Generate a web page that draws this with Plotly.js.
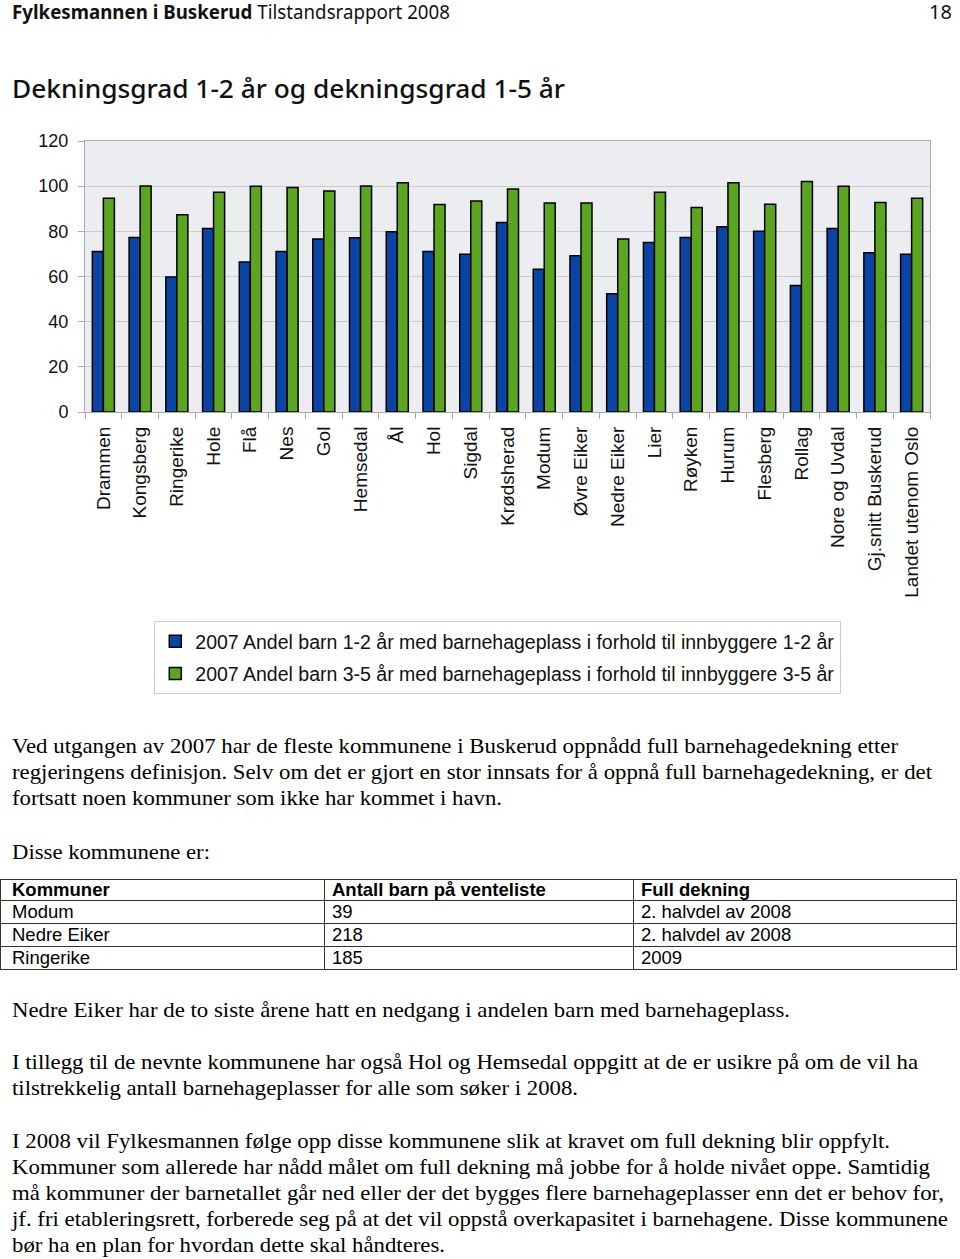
<!DOCTYPE html>
<html>
<head>
<meta charset="utf-8">
<script src="https://cdn.plot.ly/plotly-3.0.1.min.js"></script>
<style>
  html, body { margin:0; padding:0; background:#fff; }
  body { width:960px; height:1259px; position:relative; overflow:hidden; }
  #chart { position:absolute; left:0; top:0; width:960px; height:700px; }
  .ln { position:absolute; left:12px; white-space:nowrap; transform-origin:0 50%; color:#000; }
  .hdr { font-family:"Noto Sans","Open Sans",sans-serif; font-size:20px; line-height:22px; color:#111; }
  .ttl { font-family:"Noto Sans","Open Sans",sans-serif; font-size:26px; line-height:32px; font-weight:500; color:#111; }
  .p { font-family:"Liberation Serif","Times New Roman",serif; font-size:22px; line-height:26px; }
  table { position:absolute; left:0; top:879px; width:957px; border-collapse:collapse;
          font-family:"Liberation Sans",Arial,sans-serif; font-size:18.5px; }
  td { border:1.5px solid #333; padding:0 0 0 7px; height:22px; line-height:22px; vertical-align:middle; }
  th { border:1.5px solid #333; padding:0 0 0 7px; height:20px; line-height:20px; text-align:left; font-weight:bold; }
  tr > :first-child { padding-left:11px; }
</style>
</head>
<body>
<div id="chart"></div>

<div class="ln hdr" style="top:1px" data-w="438"><b>Fylkesmannen i Buskerud</b> Tilstandsrapport 2008</div>
<div class="hdr" style="position:absolute; right:8px; top:1px;">18</div>
<div class="ln ttl" style="top:72px" data-w="553">Dekningsgrad 1-2 år og dekningsgrad 1-5 år</div>

<div class="ln p" style="top:733px" data-w="886">Ved utgangen av 2007 har de fleste kommunene i Buskerud oppnådd full barnehagedekning etter</div>
<div class="ln p" style="top:759px" data-w="920">regjeringens definisjon. Selv om det er gjort en stor innsats for å oppnå full barnehagedekning, er det</div>
<div class="ln p" style="top:785px" data-w="490">fortsatt noen kommuner som ikke har kommet i havn.</div>
<div class="ln p" style="top:839px" data-w="198">Disse kommunene er:</div>

<table>
  <tr><th style="width:312px">Kommuner</th><th style="width:301px">Antall barn på venteliste</th><th>Full dekning</th></tr>
  <tr><td>Modum</td><td>39</td><td>2. halvdel av 2008</td></tr>
  <tr><td>Nedre Eiker</td><td>218</td><td>2. halvdel av 2008</td></tr>
  <tr><td>Ringerike</td><td>185</td><td>2009</td></tr>
</table>

<div class="ln p" style="top:997px" data-w="778">Nedre Eiker har de to siste årene hatt en nedgang i andelen barn med barnehageplass.</div>
<div class="ln p" style="top:1049px" data-w="906">I tillegg til de nevnte kommunene har også Hol og Hemsedal oppgitt at de er usikre på om de vil ha</div>
<div class="ln p" style="top:1075px" data-w="566">tilstrekkelig antall barnehageplasser for alle som søker i 2008.</div>
<div class="ln p" style="top:1128px" data-w="878">I 2008 vil Fylkesmannen følge opp disse kommunene slik at kravet om full dekning blir oppfylt.</div>
<div class="ln p" style="top:1154px" data-w="918">Kommuner som allerede har nådd målet om full dekning må jobbe for å holde nivået oppe. Samtidig</div>
<div class="ln p" style="top:1180px" data-w="932">må kommuner der barnetallet går ned eller der det bygges flere barnehageplasser enn det er behov for,</div>
<div class="ln p" style="top:1206px" data-w="936">jf. fri etableringsrett, forberede seg på at det vil oppstå overkapasitet i barnehagene. Disse kommunene</div>
<div class="ln p" style="top:1232px" data-w="433">bør ha en plan for hvordan dette skal håndteres.</div>

<script>
const kommuner = ["Drammen","Kongsberg","Ringerike","Hole","Flå","Nes","Gol","Hemsedal","Ål","Hol",
  "Sigdal","Krødsherad","Modum","Øvre Eiker","Nedre Eiker","Lier","Røyken","Hurum","Flesberg",
  "Rollag","Nore og Uvdal","Gj.snitt Buskerud","Landet utenom Oslo"];
const andel12 = [71.1,77.3,59.8,81.3,66.4,71.1,76.6,77.2,79.8,71.1,69.8,83.9,63.2,69.2,52.4,75.1,77.3,82.0,80.0,56.0,81.3,70.5,69.8];
const andel35 = [94.7,100.1,87.3,97.3,100.0,99.4,97.9,100.1,101.5,91.9,93.4,98.7,92.6,92.6,76.6,97.3,90.6,101.5,92.0,102.1,100.0,92.8,94.7];
const serieNavn = ["2007 Andel barn 1-2 år med barnehageplass i forhold til innbyggere 1-2 år",
                   "2007 Andel barn 3-5 år med barnehageplass i forhold til innbyggere 3-5 år"];
const yTicks = [0,20,40,60,80,100,120];

const traces = [
  {type:"bar", name:serieNavn[0], x:kommuner, y:andel12, legendgroup:"a",
   marker:{color:"#0A45A6", line:{color:"#000", width:1.5}}},
  {type:"bar", name:serieNavn[1], x:kommuner, y:andel35, legendgroup:"b",
   marker:{color:"#5BA520", line:{color:"#000", width:1.5}}}
];
const layout = {
  width:960, height:700,
  margin:{l:85, r:30, t:141, b:288},
  paper_bgcolor:"rgba(0,0,0,0)", plot_bgcolor:"#ECEDF1",
  barmode:"group", bargap:0.4, bargroupgap:0,
  font:{family:"Liberation Sans, Arial, sans-serif", color:"#111"},
  xaxis:{type:"category", tickangle:-90, tickson:"boundaries", ticks:"outside", ticklen:6,
         tickcolor:"#aaa", showline:true, linecolor:"#aaa", linewidth:1, mirror:true,
         showgrid:false, ticklabelstandoff:6,
         tickfont:{size:19, family:"Liberation Sans, Arial, sans-serif"}, automargin:false},
  yaxis:{range:[0,120], tickvals:yTicks, ticks:"outside", ticklen:6, tickcolor:"#aaa",
         showline:true, linecolor:"#aaa", linewidth:1, mirror:true,
         gridcolor:"#C9C9CC", gridwidth:1, zeroline:false, ticklabelstandoff:6,
         tickfont:{size:18, family:"Liberation Sans, Arial, sans-serif"}, automargin:false},
  showlegend:true,
  legend:{x:0.082, xref:"paper", y:0.1129, yref:"container", xanchor:"left", yanchor:"top", bgcolor:"#fff",
          bordercolor:"#ccc", borderwidth:1, font:{size:19.5, family:"Liberation Sans, Arial, sans-serif"},
          itemwidth:30, tracegroupgap:4, traceorder:"grouped"}
};
Plotly.newPlot("chart", traces, layout, {staticPlot:true, displayModeBar:false}).then(() => {
  document.querySelectorAll(".ln[data-w]").forEach(el => {
    const w = el.getBoundingClientRect().width;
    const target = +el.dataset.w;
    if (w > 0) el.style.transform = "scaleX(" + (target / w) + ")";
  });
});
</script>
</body>
</html>
